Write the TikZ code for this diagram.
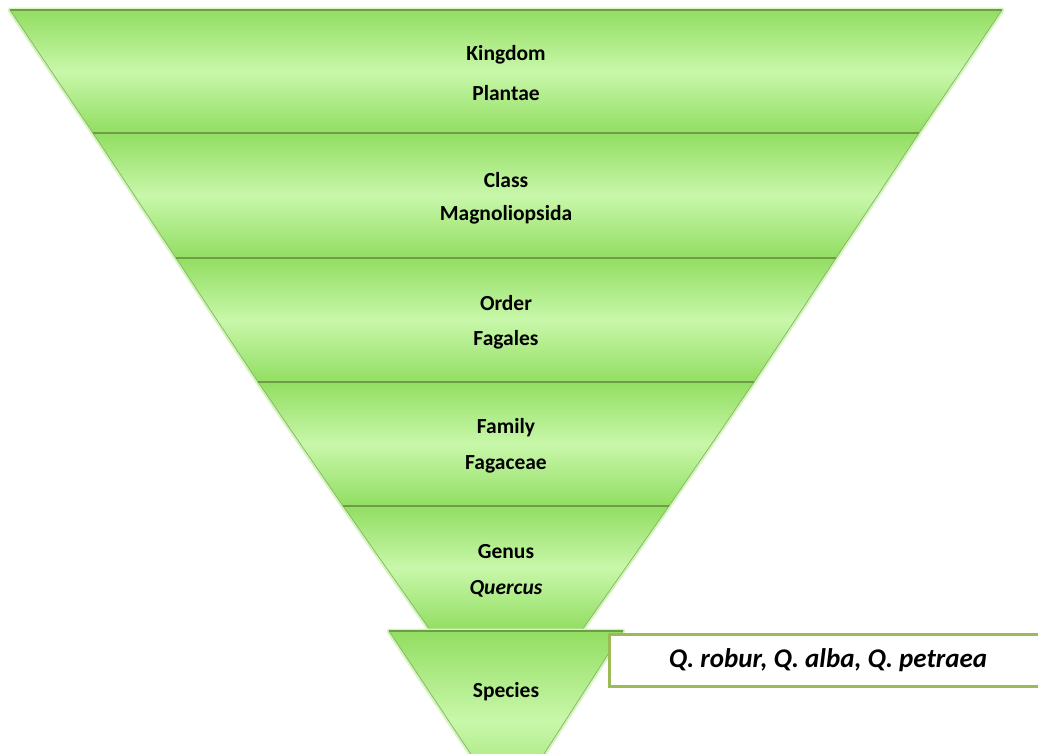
\documentclass[tikz,border=0pt]{standalone}
\usepackage{fontspec}
\setmainfont{Carlito}
\usetikzlibrary{positioning}

\definecolor{leafdark}{HTML}{92DE62}
\definecolor{leaflight}{HTML}{C8F7AA}
\definecolor{leafline}{HTML}{6E9C4A}
\definecolor{leafedge}{HTML}{86B266}
\definecolor{leafglow}{HTML}{D4F6BC}
\definecolor{olivebox}{HTML}{9BBB59}

\begin{document}
\begin{tikzpicture}[
    x=1pt, y=-1pt,
    glow/.style={draw=leafglow, line width=5pt, line join=round},
    layer/.style={
        top color=leafdark,
        bottom color=leafdark,
        middle color=leaflight,
        draw=leafedge,
        line width=0.7pt
    },
    rank/.style={
        font=\fontsize{21.5}{26}\selectfont\bfseries,
        inner sep=0pt
    },
    namesbox/.style={
        draw=olivebox,
        line width=3pt,
        fill=white,
        minimum width=437pt,
        minimum height=52pt,
        font=\fontsize{27}{32}\selectfont\bfseries\itshape
    }
]

\useasboundingbox (0,0) rectangle (1038,753);
\clip (0,0) rectangle (1038,753);

% halo behind the pyramid
\foreach \yt/\yb/\lt/\lb in {10/133/10/93, 133/258/93/176, 258/382/176/258,
                             382/506/258/343, 506/630/343/430}
    \draw[glow] (\lt,\yt) -- (1012-\lt,\yt) -- (1012-\lb,\yb) -- (\lb,\yb) -- cycle;

% pyramid layers
\foreach \yt/\yb/\lt/\lb in {10/133/10/93, 133/258/93/176, 258/382/176/258,
                             382/506/258/343, 506/630/343/430}
{
    \shade[layer] (\lt,\yt) -- (1012-\lt,\yt) -- (1012-\lb,\yb) -- (\lb,\yb) -- cycle;
    \draw[leafline, line width=1.2pt] (\lt,\yt) -- (1012-\lt,\yt);
}

% species triangle, cut by the page edge
\draw[glow] (389,631) -- (623,631) -- (508,810) -- cycle;
\shade[layer] (389,631) -- (623,631) -- (508,810) -- cycle;
\draw[leafline, line width=1.2pt] (389,631) -- (623,631);

% rank labels
\node[rank] (kingdom) at (506,55) {Kingdom};
\node[rank] (plantae) at (506,93) {Plantae};
\node[rank] (class) at (506,180) {Class};
\node[rank] (magnoliopsida) at (506,215) {Magnoliopsida};
\node[rank] (order) at (506,303) {Order};
\node[rank] (fagales) at (506,340) {Fagales};
\node[rank] (family) at (506,428) {Family};
\node[rank] (fagaceae) at (506,464) {Fagaceae};
\node[rank] (genus) at (506,552) {Genus};
\node[rank] (quercus) at (506,589) {\itshape Quercus};
\node[rank] (species) at (506,692) {Species};

% species names
\node[namesbox] (speciesnames) at (828,660.5) {Q. robur, Q. alba, Q. petraea};

\end{tikzpicture}
\end{document}
